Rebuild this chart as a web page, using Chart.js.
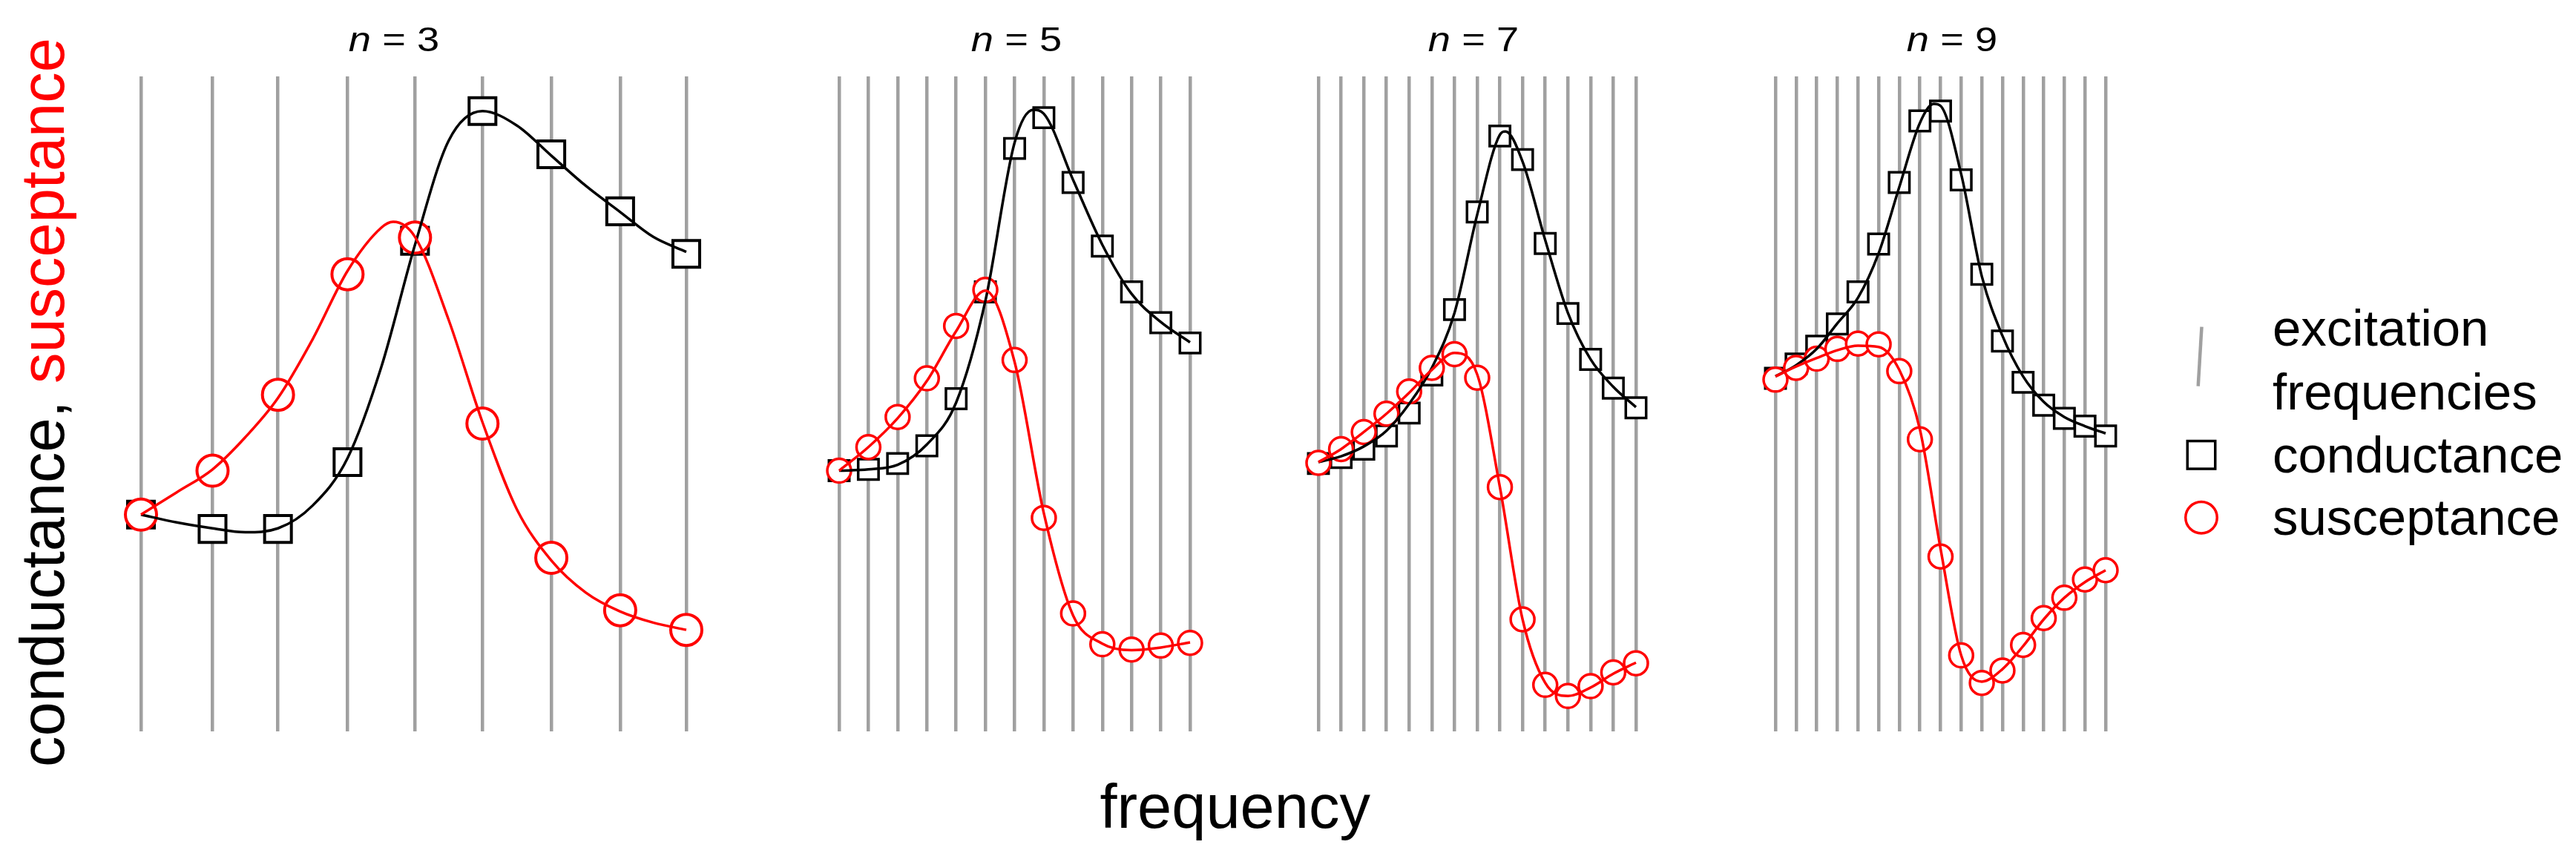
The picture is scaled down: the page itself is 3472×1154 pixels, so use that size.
<!DOCTYPE html>
<html>
<head>
<meta charset="utf-8">
<script src="https://cdn.jsdelivr.net/npm/chart.js@4.4.1/dist/chart.umd.min.js"></script>
<style>
html,body{margin:0;padding:0;background:#fff;overflow:hidden;}
#page{position:relative;width:3472px;height:1154px;overflow:hidden;background:#fff;font-family:"Liberation Sans",Arial,sans-serif;color:#000;}
canvas{position:absolute;}
.t{position:absolute;white-space:nowrap;}
</style>
</head>
<body>
<div id="page">
  <canvas id="c1"></canvas>
  <canvas id="c2"></canvas>
  <canvas id="c3"></canvas>
  <canvas id="c4"></canvas>

  <div class="t" style="left:381px;top:30.1px;width:300px;text-align:center;font-size:46px;line-height:46px;transform:scaleX(1.18);"><i>n</i> = 3</div>
  <div class="t" style="left:1220px;top:30.1px;width:300px;text-align:center;font-size:46px;line-height:46px;transform:scaleX(1.18);"><i>n</i> = 5</div>
  <div class="t" style="left:1836px;top:30.1px;width:300px;text-align:center;font-size:46px;line-height:46px;transform:scaleX(1.18);"><i>n</i> = 7</div>
  <div class="t" style="left:2481px;top:30.1px;width:300px;text-align:center;font-size:46px;line-height:46px;transform:scaleX(1.18);"><i>n</i> = 9</div>

  <div class="t" style="left:-542.8px;top:501.3px;width:1200px;height:83px;text-align:center;font-size:83px;line-height:83px;transform:rotate(-90deg);">conductance, <span style="color:#ff0000">susceptance</span></div>
  <div class="t" style="left:1364.7px;top:1045.7px;width:600px;text-align:center;font-size:83px;line-height:83px;">frequency</div>

  <svg style="position:absolute;left:2900px;top:400px;" width="120" height="360">
    <line x1="67.5" y1="40.7" x2="62.7" y2="120.7" stroke="#a0a0a0" stroke-width="4.5"/>
    <rect x="48.25" y="194.55" width="37.5" height="37.5" fill="none" stroke="#000" stroke-width="3.5"/>
    <circle cx="67" cy="297.8" r="21.25" fill="none" stroke="#ff0000" stroke-width="3.5"/>
  </svg>
  <div class="t" style="left:3063px;top:407.6px;font-size:69px;line-height:69px;">excitation</div>
  <div class="t" style="left:3063px;top:493.9px;font-size:69px;line-height:69px;">frequencies</div>
  <div class="t" style="left:3063px;top:578.6px;font-size:69px;line-height:69px;">conductance</div>
  <div class="t" style="left:3063px;top:662.6px;font-size:69px;line-height:69px;">susceptance</div>
</div>

<script>
// ---------- data (relative units: 0 = bottom, 100 = top of the plotting band) ----------
// n = 3
const freq1 = [0, 1.05, 2.01, 3.03, 4.02, 5.01, 6.02, 7.03, 8];
const cond1 = [33.1, 30.9, 30.9, 41.1, 74.9, 94.7, 88.1, 79.4, 72.9];
const susc1 = [33.1, 39.8, 51.4, 69.8, 75.4, 47.0, 26.5, 18.5, 15.5];
const fitCondX1 = [0, 0.525, 1.05, 1.53, 2.01, 2.52, 3.03, 3.525, 4.02, 4.515, 5.01, 5.515, 6.02, 6.525, 7.03, 7.515, 8];
const fitCond1  = [33.1, 31.9, 31.0, 30.4, 31.0, 34.5, 41.7, 55.6, 74.3, 90.2, 94.7, 92.5, 87.9, 83.3, 79.3, 75.5, 73.2];
const fitSuscX1 = [0, 0.525, 1.05, 1.53, 2.01, 2.52, 3.03, 3.525, 3.70, 4.02, 4.515, 5.01, 5.515, 6.02, 6.525, 7.03, 7.515, 8];
const fitSusc1  = [33.1, 36.5, 40.0, 44.9, 50.9, 59.9, 70.3, 76.9, 77.8, 75.5, 62.8, 47.2, 33.9, 26.1, 21.2, 18.3, 16.6, 15.5];

// n = 5
const freq2 = [0, 1, 2, 3, 4, 5, 6, 7, 8, 9, 10, 11, 12];
const cond2 = [39.8, 40.0, 40.9, 43.6, 50.8, 67.1, 89.0, 93.7, 83.8, 74.1, 67.1, 62.4, 59.3];
const susc2 = [39.8, 43.4, 48.0, 53.9, 61.9, 67.4, 56.7, 32.6, 18.0, 13.3, 12.5, 13.1, 13.5];
const fitCondX2 = [0, 1, 2, 3, 4, 5, 6, 6.64, 7, 8, 9, 10, 11, 12];
const fitCond2  = [39.8, 40.0, 40.7, 43.8, 50.2, 65.7, 89.9, 94.9, 94.3, 84.2, 74.3, 66.8, 62.5, 59.4];
const fitSuscX2 = [0, 1, 2, 3, 4, 5, 6, 7, 8, 9, 10, 11, 12];
const fitSusc2  = [39.8, 43.4, 47.8, 53.5, 61.1, 67.3, 56.4, 33.3, 17.7, 13.4, 12.4, 12.8, 13.6];

// n = 7
const freq3 = [0, 1, 2, 3, 4, 5, 6, 7, 8, 9, 10, 11, 12, 13, 14];
const cond3 = [40.9, 41.8, 43.1, 45.1, 48.6, 54.4, 64.4, 79.3, 90.9, 87.3, 74.5, 63.8, 56.8, 52.4, 49.4];
const susc3 = [41.0, 43.1, 45.7, 48.5, 51.9, 55.5, 57.6, 54.0, 37.3, 17.1, 7.1, 5.4, 6.9, 9.0, 10.4];
const fitCondX3 = [0, 1, 2, 3, 4, 5, 6, 7, 8, 8.25, 9, 10, 11, 12, 13, 14];
const fitCond3  = [41.1, 42.0, 43.5, 45.9, 50.0, 55.5, 63.9, 78.9, 91.1, 91.6, 87.0, 75.0, 63.9, 56.8, 52.6, 49.5];
const fitSuscX3 = [0, 1, 2, 3, 4, 5, 6, 7, 8, 9, 10, 11, 12, 13, 14];
const fitSusc3  = [41.1, 43.1, 45.7, 48.5, 51.7, 55.2, 57.8, 54.5, 37.3, 17.1, 7.4, 5.4, 6.7, 8.8, 10.5];

// n = 9
const freq4 = [0, 1, 2, 3, 4, 5, 6, 7, 8, 9, 10, 11, 12, 13, 14, 15, 16];
const cond4 = [53.9, 56.1, 58.8, 62.2, 67.1, 74.4, 83.8, 93.2, 94.7, 84.2, 69.8, 59.6, 53.3, 49.8, 47.8, 46.6, 45.1];
const susc4 = [53.7, 55.5, 56.9, 58.4, 59.2, 59.1, 55.0, 44.6, 26.7, 11.6, 7.4, 9.3, 13.2, 17.3, 20.4, 23.2, 24.6];
const fitCondX4 = [0, 1, 2, 3, 4, 5, 6, 7, 7.67, 8, 9, 10, 11, 12, 13, 14, 15, 16];
const fitCond4  = [54.2, 55.9, 58.4, 62.3, 66.2, 73.0, 83.1, 92.9, 95.8, 95.5, 85.1, 69.5, 60.4, 54.2, 50.3, 48.0, 46.6, 45.5];
const fitSuscX4 = [0, 1, 2, 3, 4, 5, 6, 7, 8, 9, 10, 11, 12, 13, 14, 15, 16];
const fitSusc4  = [54.2, 55.7, 57.0, 58.2, 58.9, 58.7, 55.2, 46.1, 27.9, 11.6, 7.6, 9.5, 13.0, 17.1, 20.4, 22.8, 24.6];

// ---------- layout ----------
const PAD = 40, TOP = 103, BOTTOM = 986;
const panels = [
  {id:'c1', L:190,  R:925,  freq:freq1, cond:cond1, susc:susc1, fcx:fitCondX1, fc:fitCond1, fsx:fitSuscX1, fs:fitSusc1, sqR:25.5, ciR:21.0, bw:4},
  {id:'c2', L:1131, R:1604, freq:freq2, cond:cond2, susc:susc2, fcx:fitCondX2, fc:fitCond2, fsx:fitSuscX2, fs:fitSusc2, sqR:19.4, ciR:16.0, bw:3.5},
  {id:'c3', L:1777, R:2205, freq:freq3, cond:cond3, susc:susc3, fcx:fitCondX3, fc:fitCond3, fsx:fitSuscX3, fs:fitSusc3, sqR:19.4, ciR:16.0, bw:3.5},
  {id:'c4', L:2393, R:2838, freq:freq4, cond:cond4, susc:susc4, fcx:fitCondX4, fc:fitCond4, fsx:fitSuscX4, fs:fitSusc4, sqR:19.4, ciR:16.0, bw:3.5}
];

const pts = (xs, ys) => xs.map((x, i) => ({x: x, y: ys[i]}));

panels.forEach(p => {
  const cv = document.getElementById(p.id);
  const w = (p.R - p.L) + 2 * PAD, h = (BOTTOM - TOP) + 2 * PAD;
  cv.width = w; cv.height = h;
  cv.style.left = (p.L - PAD) + 'px';
  cv.style.top = (TOP - PAD) + 'px';
  cv.style.width = w + 'px'; cv.style.height = h + 'px';

  new Chart(cv, {
    type: 'scatter',
    data: {
      datasets: [
        { label: 'conductance', data: pts(p.freq, p.cond), showLine: false,
          pointStyle: 'rect', pointRadius: p.sqR, pointBorderWidth: p.bw,
          pointBorderColor: '#000', pointBackgroundColor: p.cond.map((_, i) => i === 0 ? '#000' : '#fff'),
          order: 4, clip: false },
        { label: 'susceptance', data: pts(p.freq, p.susc), showLine: false,
          pointStyle: 'circle', pointRadius: p.ciR, pointBorderWidth: p.bw,
          pointBorderColor: '#ff0000', pointBackgroundColor: '#fff',
          order: 3, clip: false },
        { label: 'conductance fit', data: pts(p.fcx, p.fc), showLine: true,
          pointRadius: 0, borderColor: '#000', borderWidth: 3.5,
          cubicInterpolationMode: 'monotone', order: 2, clip: false },
        { label: 'susceptance fit', data: pts(p.fsx, p.fs), showLine: true,
          pointRadius: 0, borderColor: '#ff0000', borderWidth: 3.5,
          cubicInterpolationMode: 'monotone', order: 1, clip: false }
      ]
    },
    options: {
      responsive: false,
      animation: false,
      events: [],
      layout: { padding: PAD },
      plugins: { legend: { display: false }, tooltip: { enabled: false }, title: { display: false } },
      scales: {
        x: {
          type: 'linear', min: p.freq[0], max: p.freq[p.freq.length - 1],
          display: true,
          ticks: { display: false },
          border: { display: false },
          grid: { color: '#a0a0a0', lineWidth: 4.5, drawTicks: false, drawOnChartArea: true },
          afterBuildTicks: s => { s.ticks = p.freq.map(v => ({ value: v })); }
        },
        y: { min: 0, max: 100, display: false }
      }
    }
  });
});
</script>
</body>
</html>
